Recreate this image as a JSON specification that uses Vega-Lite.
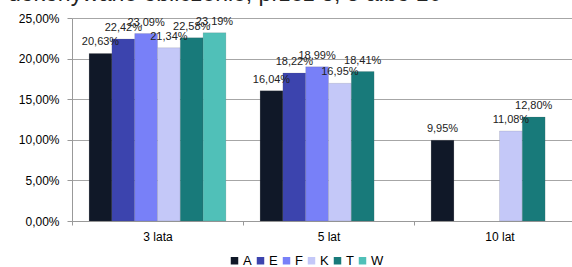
{
  "$schema": "https://vega.github.io/schema/vega-lite/v6.json",
  "width": 513,
  "height": 203,
  "autosize": {"type": "none"},
  "padding": {"left": 72, "top": 18, "right": -13, "bottom": 46},
  "background": "white",
  "title": {
    "text": "dokonywane obliczenie, przez 3, 5 albo 10",
    "anchor": "start",
    "frame": "group",
    "orient": "top",
    "font": "Liberation Sans",
    "fontSize": 23,
    "fontWeight": "normal",
    "color": "#222222",
    "dx": -64,
    "offset": 0,
    "baseline": "alphabetic",
    "dy": 12
  },
  "config": {
    "locale": {"number": {"decimal": ",", "thousands": " ", "grouping": [3], "currency": ["", " zł"]}},
    "view": {"stroke": null},
    "font": "Liberation Sans"
  },
  "data": {
    "values": [
      {"okres": "3 lata", "seria": "A", "v": 0.2063},
      {"okres": "3 lata", "seria": "E", "v": 0.2242},
      {"okres": "3 lata", "seria": "F", "v": 0.2309},
      {"okres": "3 lata", "seria": "K", "v": 0.2134},
      {"okres": "3 lata", "seria": "T", "v": 0.2258},
      {"okres": "3 lata", "seria": "W", "v": 0.2319},
      {"okres": "5 lat", "seria": "A", "v": 0.1604},
      {"okres": "5 lat", "seria": "E", "v": 0.1822},
      {"okres": "5 lat", "seria": "F", "v": 0.1899},
      {"okres": "5 lat", "seria": "K", "v": 0.1695},
      {"okres": "5 lat", "seria": "T", "v": 0.1841},
      {"okres": "10 lat", "seria": "A", "v": 0.0995},
      {"okres": "10 lat", "seria": "K", "v": 0.1108},
      {"okres": "10 lat", "seria": "T", "v": 0.1280}
    ]
  },
  "encoding": {
    "x": {
      "field": "okres",
      "type": "nominal",
      "sort": ["3 lata", "5 lat", "10 lat"],
      "scale": {"paddingInner": 0, "paddingOuter": 0},
      "axis": {
        "title": null,
        "labelAngle": 0,
        "labelFontSize": 12,
        "labelColor": "#000000",
        "labelPadding": 6,
        "tickBand": "extent",
        "tickSize": 4,
        "tickColor": "#999999",
        "domainColor": "#999999",
        "grid": false
      }
    },
    "xOffset": {
      "field": "seria",
      "type": "nominal",
      "sort": ["A", "E", "F", "K", "T", "W"],
      "scale": {"paddingInner": 0, "paddingOuter": 0.75}
    },
    "y": {
      "field": "v",
      "type": "quantitative",
      "scale": {"domain": [0, 0.25], "nice": false},
      "axis": {
        "title": null,
        "format": ".2%",
        "values": [0, 0.05, 0.1, 0.15, 0.2, 0.25],
        "labelFontSize": 12,
        "labelColor": "#000000",
        "labelPadding": 8,
        "tickSize": 5,
        "tickColor": "#999999",
        "domainColor": "#999999",
        "gridColor": "#a6a6a6",
        "gridWidth": 1
      }
    }
  },
  "layer": [
    {
      "mark": {"type": "bar", "stroke": "#555555", "strokeWidth": 0.3, "strokeOpacity": 0.5},
      "encoding": {
        "color": {
          "field": "seria",
          "type": "nominal",
          "scale": {
            "domain": ["A", "E", "F", "K", "T", "W"],
            "range": ["#101828", "#3c44ae", "#7880f8", "#c4c8f8", "#187a7a", "#50c0b8"]
          },
          "legend": {
            "title": null,
            "orient": "none",
            "direction": "horizontal",
            "legendX": 156,
            "legendY": 236,
            "symbolType": "square",
            "symbolSize": 56,
            "symbolStrokeWidth": 0,
            "labelFontSize": 13,
            "labelColor": "#000000",
            "labelOffset": 2,
            "columnPadding": 2
          }
        }
      }
    },
    {
      "mark": {"type": "text", "baseline": "middle", "dy": -11, "fontSize": 11, "color": "#222222"},
      "encoding": {
        "text": {"field": "v", "type": "quantitative", "format": ".2%"}
      }
    }
  ]
}
